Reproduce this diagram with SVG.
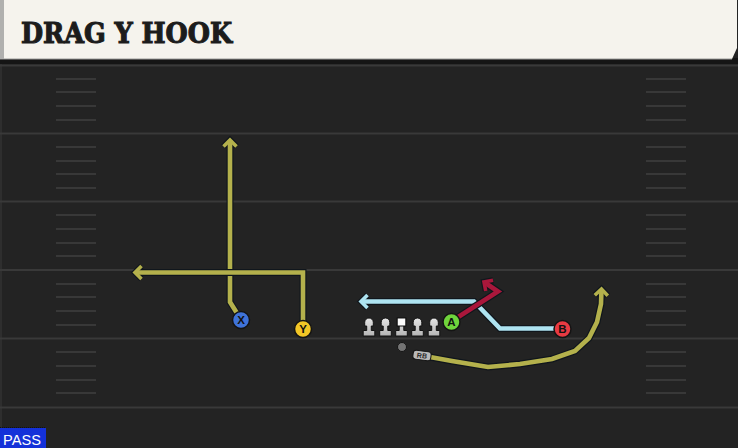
<svg xmlns="http://www.w3.org/2000/svg" xmlns:xlink="http://www.w3.org/1999/xlink" width="738" height="448" viewBox="0 0 738 448">
<style>
.yard{stroke:#393939;stroke-width:2;fill:none}
.hash{stroke:#383838;stroke-width:2;fill:none}
.out{fill:none;stroke:#10161c;stroke-width:7;stroke-linejoin:miter;stroke-linecap:butt}
.yel{fill:none;stroke:#b4b14c;stroke-width:4.6;stroke-linejoin:miter}
.blu{fill:none;stroke:#aee4f1;stroke-width:4.6;stroke-linejoin:miter}
.red{fill:none;stroke:#a9173b;stroke-width:4.6;stroke-linejoin:miter}
.pc{stroke:#141414;stroke-width:1.5}
.pl{font-family:"Liberation Sans",Arial,sans-serif;font-weight:700;font-size:11.5px;fill:#111;text-anchor:middle}
.lm{fill:url(#lmg);stroke:#121212;stroke-width:1}
</style>
<defs>
<linearGradient id="lmg" x1="0" y1="0" x2="0" y2="1">
<stop offset="0" stop-color="#e6e6e6"/>
<stop offset="1" stop-color="#b4b4b4"/>
</linearGradient>
<marker id="mo" markerUnits="userSpaceOnUse" orient="auto" refX="0" refY="0" markerWidth="30" markerHeight="30" style="overflow:visible">
<polyline points="-6.5,-6.5 0,0 -6.5,6.5" fill="none" stroke="#10161c" stroke-width="6" stroke-linejoin="miter"/>
</marker>
<marker id="my" markerUnits="userSpaceOnUse" orient="auto" refX="0" refY="0" markerWidth="30" markerHeight="30" style="overflow:visible">
<polyline points="-6.5,-6.5 0,0 -6.5,6.5" fill="none" stroke="#b4b14c" stroke-width="3.6" stroke-linejoin="miter"/>
</marker>
<marker id="mb" markerUnits="userSpaceOnUse" orient="auto" refX="0" refY="0" markerWidth="30" markerHeight="30" style="overflow:visible">
<polyline points="-6.5,-6.5 0,0 -6.5,6.5" fill="none" stroke="#aee4f1" stroke-width="3.6" stroke-linejoin="miter"/>
</marker>
<marker id="mr" markerUnits="userSpaceOnUse" orient="auto" refX="0" refY="0" markerWidth="30" markerHeight="30" style="overflow:visible">
<polyline points="-6.5,-6.5 0,0 -6.5,6.5" fill="none" stroke="#a9173b" stroke-width="3.6" stroke-linejoin="miter"/>
</marker>
<path id="lineman" class="lm" d="M -4.3 8 V 4.3 A 4.3 4.3 0 0 1 4.3 4.3 V 8 H 2.3 V 12.5 H 5.8 V 18 H -5.8 V 12.5 H -2.3 V 8 Z"/>
</defs>

<!-- field -->
<rect x="0" y="0" width="738" height="448" fill="#232323"/>
<rect x="0" y="58" width="738" height="6" fill="#151515"/>
<rect x="0" y="64" width="2" height="384" fill="#2e2e2e"/>
<g id="yardlines">
<path class="yard" d="M0 65.5H738M0 133.5H738M0 201.5H738M0 270H738M0 338.5H738M0 407.5H738"/>
</g>
<g id="hashmarks">
<path class="hash" d="M56 79H96M56 92H96M56 106H96M56 120H96M56 147H96M56 161H96M56 174H96M56 188H96M56 215H96M56 229H96M56 243H96M56 256H96M56 284H96M56 297H96M56 311H96M56 325H96M56 352H96M56 366H96M56 380H96M56 393H96"/>
<path class="hash" d="M646 79H686M646 92H686M646 106H686M646 120H686M646 147H686M646 161H686M646 174H686M646 188H686M646 215H686M646 229H686M646 243H686M646 256H686M646 284H686M646 297H686M646 311H686M646 325H686M646 352H686M646 366H686M646 380H686M646 393H686"/>
</g>

<!-- header -->
<g id="header">
<polygon points="0,0 737,0 737,48 732,59 0,59" fill="#f5f3ed"/>
<line x1="0" y1="59" x2="732" y2="59" stroke="#9a9a98" stroke-width="1"/>
<rect x="0" y="0" width="4" height="59" fill="#b0b0ae"/>
<text x="21" y="42.5" font-family="'DejaVu Serif Condensed','DejaVu Serif',serif" font-weight="700" font-size="28" fill="#1c1c1c" stroke="#1c1c1c" stroke-width="1" stroke-linejoin="miter" textLength="211" lengthAdjust="spacingAndGlyphs">DRAG Y HOOK</text>
</g>

<!-- routes -->
<g id="routes">
<!-- X route -->
<path class="out" d="M240 318 L230 302 L230 140" marker-end="url(#mo)"/>
<path class="yel" d="M240 318 L230 302 L230 140" marker-end="url(#my)"/>
<!-- Y route -->
<path class="out" d="M303 326 L303 272.5 L135 272.5" marker-end="url(#mo)"/>
<path class="yel" d="M303 326 L303 272.5 L135 272.5" marker-end="url(#my)"/>
<!-- B route -->
<path class="out" d="M554 328.5 L500 328.5 L474 301.5 L361 301.5" marker-end="url(#mo)"/>
<path class="blu" d="M554 328.5 L500 328.5 L474 301.5 L361 301.5" marker-end="url(#mb)"/>
<!-- A route -->
<path class="out" d="M452 321 L498 291.5 L484 282" marker-end="url(#mo)"/>
<path class="red" d="M452 321 L498 291.5 L484 282" marker-end="url(#mr)"/>
<!-- RB route -->
<path class="out" d="M430 357 L452 361 L488 367 L520 364 L552 359 L575 351 L589 338 L597 322 L601 304 L601.5 289" marker-end="url(#mo)"/>
<path class="yel" d="M430 357 L452 361 L488 367 L520 364 L552 359 L575 351 L589 338 L597 322 L601 304 L601.5 289" marker-end="url(#my)"/>
</g>

<!-- offensive line -->
<g id="lt"><use xlink:href="#lineman" href="#lineman" x="369" y="318"/></g>
<g id="lg"><use xlink:href="#lineman" href="#lineman" x="385.5" y="318"/></g>
<g id="c">
<path class="lm" d="M397.2 318 H405.8 V326 H403.8 V330.5 H407.3 V336 H395.7 V330.5 H399.2 V326 H397.2 Z"/>
<rect x="397.2" y="318" width="8.6" height="8" fill="#fafafa" stroke="#121212" stroke-width="1"/>
</g>
<g id="rg"><use xlink:href="#lineman" href="#lineman" x="417.5" y="318"/></g>
<g id="rt"><use xlink:href="#lineman" href="#lineman" x="434" y="318"/></g>

<!-- QB -->
<g id="qb"><circle cx="402" cy="347" r="4.5" fill="#747474" stroke="#151515" stroke-width="1"/></g>

<!-- RB -->
<g id="rb" transform="translate(422 355.5) rotate(8)">
<rect x="-9" y="-4.5" width="18" height="9" rx="3" fill="#b9b9b9" stroke="#121212" stroke-width="1"/>
<text x="0" y="2.6" font-family="'Liberation Sans',Arial,sans-serif" font-weight="700" font-size="7" fill="#2a2a2a" text-anchor="middle">RB</text>
</g>

<!-- receivers -->
<g id="player-x">
<circle class="pc" cx="241" cy="320" r="8.5" fill="#3f73d9"/>
<text class="pl" x="241" y="324">X</text>
</g>
<g id="player-y">
<circle class="pc" cx="303" cy="329" r="8.5" fill="#f2c626"/>
<text class="pl" x="303" y="333">Y</text>
</g>
<g id="player-a">
<circle class="pc" cx="451.5" cy="322" r="8.5" fill="#6fd43c"/>
<text class="pl" x="451.5" y="326">A</text>
</g>
<g id="player-b">
<circle class="pc" cx="562.5" cy="329" r="8.5" fill="#e83a42"/>
<text class="pl" x="562.5" y="333">B</text>
</g>

<!-- PASS label -->
<g id="pass">
<rect x="0" y="428" width="46" height="20" fill="#1431d9"/>
<line x1="0" y1="427.5" x2="46" y2="427.5" stroke="#111" stroke-width="1" stroke-dasharray="1 1"/>
<text x="3" y="445" font-family="'Liberation Sans',Arial,sans-serif" font-size="15" fill="#ffffff" textLength="38" lengthAdjust="spacingAndGlyphs">PASS</text>
</g>
</svg>
